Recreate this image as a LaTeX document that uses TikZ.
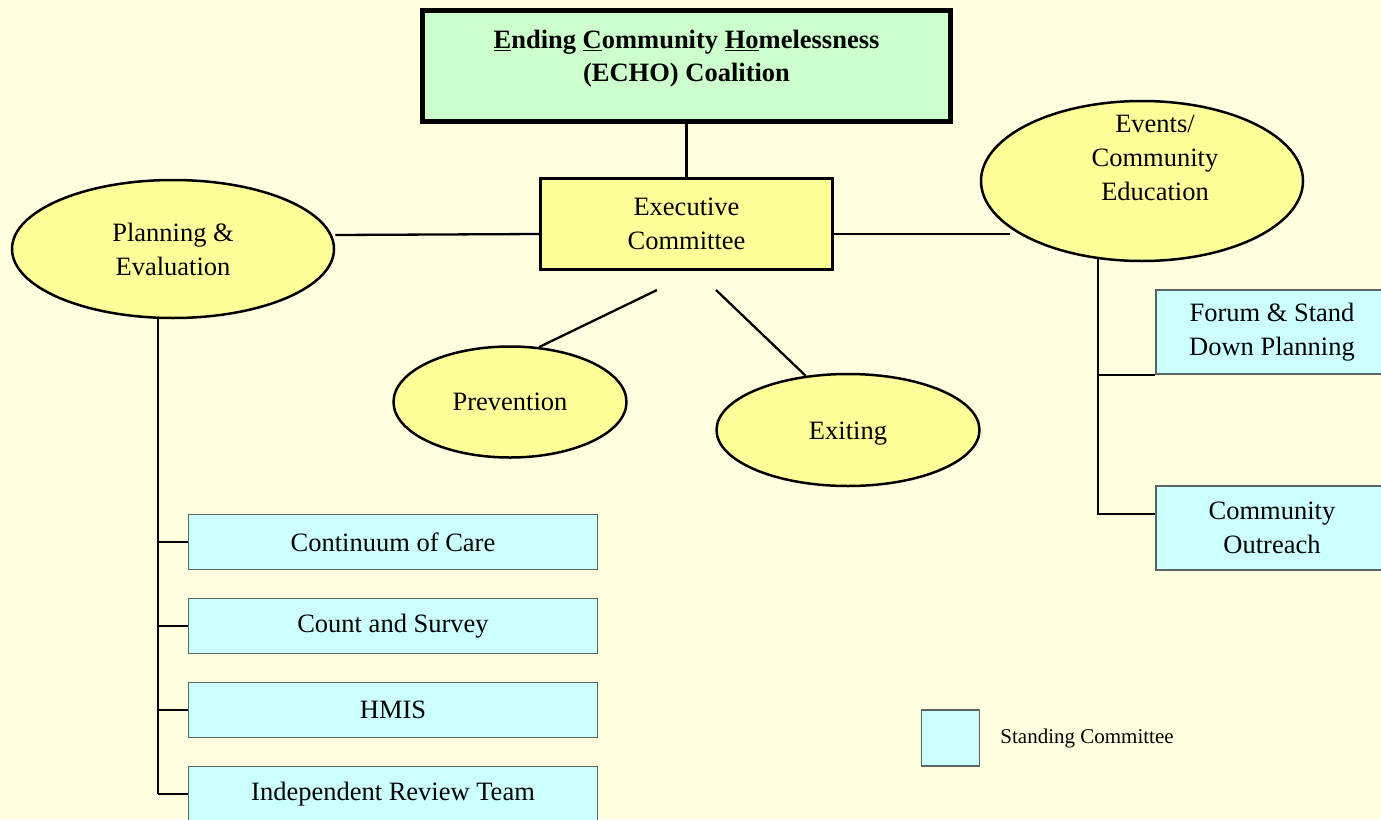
\documentclass[tikz,border=0pt]{standalone}
\usepackage{fontspec}
\setmainfont{Liberation Serif}
\usetikzlibrary{shapes.geometric,positioning}
\definecolor{paper}{RGB}{255,255,224}
\definecolor{ovalfill}{RGB}{255,255,153}
\definecolor{topfill}{RGB}{204,255,204}
\definecolor{boxfill}{RGB}{204,255,255}
\definecolor{boxline}{RGB}{90,100,100}
\begin{document}
\begin{tikzpicture}[x=1pt,y=-1pt]
    \tikzstyle{every node}+=[inner sep=0pt, align=center, font=\fontsize{26.5}{34}\selectfont]
    \tikzstyle{oval}=[ellipse, draw=black, line width=2.5pt, fill=ovalfill]
    \tikzstyle{stand}=[rectangle, draw=boxline, line width=1.5pt, fill=boxfill]
    \tikzstyle{link}=[black, line width=2.3pt]
    \fill [paper] (0,0) rectangle (1381,819);
    \useasboundingbox (0,0) rectangle (1381,819);
    \node [rectangle, draw=black, line width=5pt, fill=topfill, minimum width=528pt, minimum height=111pt] (echo) at (686.5,66) {};
    \node [font=\bfseries\fontsize{26.5}{33}\selectfont] (echotext) at (686.5,59) {\underline{E}nding \underline{C}ommunity \underline{Ho}melessness\\(ECHO) Coalition};
    \node [rectangle, draw=black, line width=2.3pt, fill=ovalfill, minimum width=292pt, minimum height=91pt, text depth=-4pt] (exec) at (686.5,224) {Executive\\Committee};
    \node [oval, minimum width=322pt, minimum height=138pt] (plan) at (173,249) {Planning \&\\Evaluation};
    \node [oval, minimum width=322pt, minimum height=160pt] (events) at (1142,181) {};
    \node (eventstext) at ([xshift=13pt,yshift=23pt]events.center) {Events/\\Community\\Education};
    \node [oval, minimum width=233pt, minimum height=111pt] (prev) at (510,402) {Prevention};
    \node [oval, minimum width=263pt, minimum height=112pt] (exit) at (848,430) {};
    \node (exittext) at ([yshift=-4pt]exit.center) {Exiting};
    \coordinate (evleft) at (1010,234);
    \coordinate (prevtop) at (657,290);
    \coordinate (exittop) at (716,290);
    \coordinate (planfoot) at (158,317);
    \coordinate (evfoot) at (1098,259);
    \draw [link] (echo.south) -- (exec.north);
    \draw [link] ([yshift=14pt]plan.east) -- ([yshift=-10pt]exec.west);
    \draw [link] ([yshift=-10pt]exec.east) -- (evleft);
    \draw [link] (prevtop) -- (prev.62);
    \draw [link] (exittop) -- (exit.128);
    % standing committees, left
    \foreach \y/\name/\txt in {542/coc/Continuum of Care, 626/count/Count and Survey, 710/hmis/HMIS, 794/irt/Independent Review Team}
    {
        \node [stand, minimum width=409pt, minimum height=55pt] (\name) at (393,\y) {\txt};
        \draw [link] (planfoot |- \name.west) -- (\name.west);
    }
    \draw [link] (planfoot) -- (planfoot |- irt.west);
    % standing committees, right
    \node [stand, minimum width=232pt, minimum height=84pt] (forum) at (1272,332) {Forum \& Stand\\Down Planning};
    \node [stand, minimum width=232pt, minimum height=84pt] (outreach) at (1272,528) {Community\\Outreach};
    \draw [link] (evfoot) |- ([yshift=14pt]outreach.west);
    \draw [link] (evfoot |- forum.south west) -- (forum.south west);
    % key
    \node [stand, minimum width=58pt, minimum height=56pt] (key) at (950.5,738) {};
    \node [right=20pt of key, font=\fontsize{21}{25}\selectfont] (keytext) {Standing Committee};
\end{tikzpicture}
\end{document}
